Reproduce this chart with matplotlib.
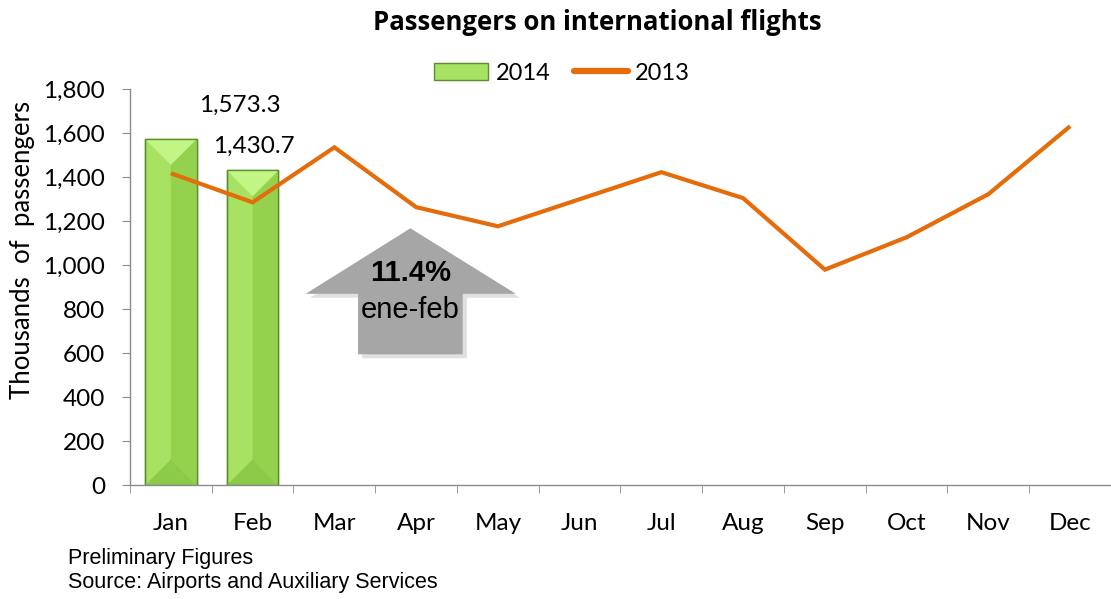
import matplotlib.pyplot as plt
import numpy as np
from matplotlib.patches import Polygon, Rectangle
from matplotlib.lines import Line2D

months = ["Jan", "Feb", "Mar", "Apr", "May", "Jun",
          "Jul", "Aug", "Sep", "Oct", "Nov", "Dec"]
pax_2014 = [1573.3, 1430.7]
pax_2013 = [1418, 1286, 1536, 1264, 1177, 1300, 1423, 1305, 980, 1127, 1323, 1632]
label_2014 = ["1,573.3", "1,430.7"]

GREEN_L = "#a8e263"
GREEN_R = "#94d24e"
GREEN_TOP = "#c2f585"
GREEN_BOT = "#8ccb4a"
GREEN_EDGE = "#5b8f2a"
ORANGE = "#e46c0a"
AXIS_GREY = "#8c8c8c"

plt.rcParams["font.family"] = ["Lato", "DejaVu Sans"]

fig = plt.figure(figsize=(11.11, 5.99), dpi=100)
ax = fig.add_axes([0.117, 0.190, 0.883, 0.661])

x = np.arange(len(months))
x14 = x[:len(pax_2014)]
width = 0.63

ax.set_xlim(-0.5, len(months) - 0.5)
ax.set_ylim(0, 1800)

bars = ax.bar(x14, pax_2014, width, color=GREEN_L, edgecolor=GREEN_EDGE,
              linewidth=1.0, zorder=2, label="2014")

# bevel look on the bars
fig.canvas.draw()
for b in bars:
    x0 = b.get_x()
    w = b.get_width()
    h = b.get_height()
    xc = x0 + w / 2
    p0 = ax.transData.transform((x0, 0))
    p1 = ax.transData.transform((x0 + w, 0))
    half_px = (p1[0] - p0[0]) / 2
    d = ax.transData.inverted().transform((p0[0], p0[1] + half_px))[1]
    ax.add_patch(Polygon([(xc, d), (x0 + w, 0), (x0 + w, h), (xc, h - d)],
                         closed=True, facecolor=GREEN_R, edgecolor="none", zorder=2.1))
    ax.add_patch(Polygon([(x0, h), (x0 + w, h), (xc, h - d)],
                         closed=True, facecolor=GREEN_TOP, edgecolor="none", zorder=2.2))
    ax.add_patch(Polygon([(x0, 0), (x0 + w, 0), (xc, d)],
                         closed=True, facecolor=GREEN_BOT, edgecolor="none", zorder=2.2))
    ax.add_patch(Rectangle((x0, 0), w, h, facecolor="none", edgecolor=GREEN_EDGE,
                           linewidth=1.0, zorder=2.3))

ax.plot(x, pax_2013, color=ORANGE, linewidth=3, solid_joinstyle="miter",
        solid_capstyle="butt", zorder=3, label="2013")

# data labels (moved off the bars, as in the original)
ax.text(0.85, 1727, label_2014[0], ha="center", va="center", fontsize=17.5)
ax.text(1.01, 1541, label_2014[1], ha="center", va="center", fontsize=17.5)

# grey up arrow with shadow
arrow = [(2.93, 1168), (4.22, 870), (3.57, 870), (3.57, 595),
         (2.29, 595), (2.29, 870), (1.65, 870)]
shadow = [(px + 0.05, py - 18) for px, py in arrow]
ax.add_patch(Polygon(shadow, closed=True, facecolor="#d9d9d9", edgecolor="none",
                     alpha=0.8, zorder=1.5))
ax.add_patch(Polygon(arrow, closed=True, facecolor="#a6a6a6", edgecolor="none",
                     zorder=1.6))
ax.text(2.93, 964, "11.4%", ha="center", va="center", fontsize=21,
        fontweight="bold", family="Liberation Sans", zorder=4)
ax.text(2.93, 795, "ene-feb", ha="center", va="center", fontsize=21,
        family="Liberation Sans", zorder=4)

# axes styling
for s in ["top", "right"]:
    ax.spines[s].set_visible(False)
for s in ["left", "bottom"]:
    ax.spines[s].set_color(AXIS_GREY)
    ax.spines[s].set_linewidth(1.0)

ax.set_yticks(np.arange(0, 1801, 200))
ax.set_yticklabels([f"{v:,}" for v in range(0, 1801, 200)])
ax.set_xticks(x)
ax.set_xticklabels(months)
ax.set_xticks(np.arange(-0.5, len(months), 1), minor=True)
ax.tick_params(axis="x", which="major", length=0, pad=20, labelsize=17.5)
ax.tick_params(axis="x", which="minor", length=6, color=AXIS_GREY, direction="out")
ax.tick_params(axis="y", length=6, color=AXIS_GREY, direction="out", pad=12,
               labelsize=17.5)

ax.set_ylabel("Thousands  of  passengers", fontsize=18.5, va="center")
ax.yaxis.set_label_coords(-0.110, 0.593)

fig.suptitle("Passengers on international flights", x=0.538, y=0.985,
             fontsize=18.5, fontweight="bold", family="Open Sans")

# legend
bar_handle = Rectangle((0, 0), 1, 1, facecolor=GREEN_L, edgecolor=GREEN_EDGE)
line_handle = Line2D([], [], color=ORANGE, linewidth=4.5, solid_capstyle="round")
fig.legend([bar_handle, line_handle], ["2014", "2013"], loc="center",
           bbox_to_anchor=(0.506, 0.878), ncol=2, frameon=False, fontsize=17,
           handlelength=2.3, handletextpad=0.3, columnspacing=1.0)

fig.text(0.061, 0.068, "Preliminary Figures", fontsize=15.5, va="center",
         family="Liberation Sans")
fig.text(0.061, 0.027, "Source: Airports and Auxiliary Services", fontsize=15.5,
         va="center", family="Liberation Sans")

fig.savefig("out.png", dpi=100)
